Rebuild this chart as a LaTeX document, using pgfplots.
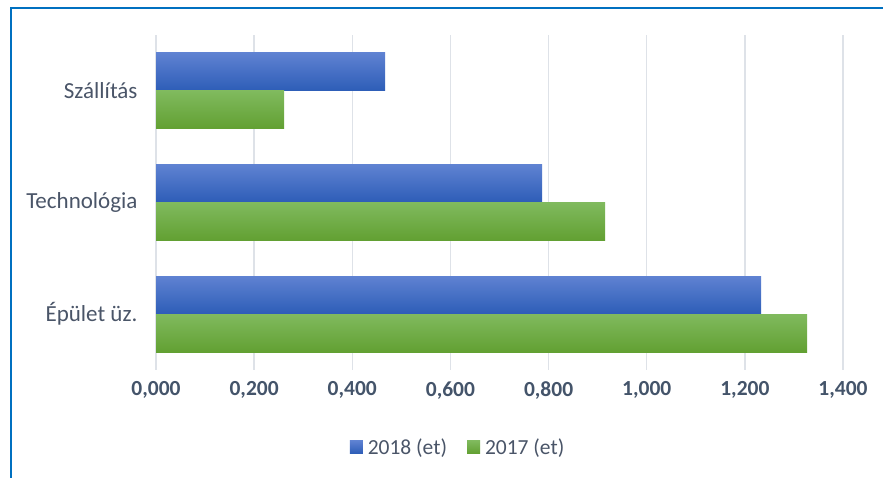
\documentclass[border=0pt]{standalone}
\usepackage{fontspec}
\setmainfont{Carlito}
\usepackage{pgfplots}
\pgfplotsset{compat=1.18}
\definecolor{txt}{HTML}{44546A}
\definecolor{cat}{HTML}{4A5568}
\definecolor{gridc}{HTML}{DEE2E8}
\definecolor{frame}{HTML}{0070C0}
\definecolor{btop}{HTML}{5F82D2}
\definecolor{bbot}{HTML}{2D5DB7}
\definecolor{gtop}{HTML}{80BA5E}
\definecolor{gbot}{HTML}{62A032}
\pgfplotsset{
  blue bar/.style={xbar, bar shift=0.17, draw=none, top color=btop, bottom color=bbot},
  green bar/.style={xbar, bar shift=-0.17, draw=none, top color=gtop, bottom color=gbot},
}
\begin{document}
\begin{tikzpicture}[x=1bp,y=1bp]
\useasboundingbox (0,0) rectangle (883,478);
\draw[frame,line width=2bp] (11,0) -- (11,470) -- (883,470);
\begin{axis}[
  at={(156bp,108bp)}, anchor=south west,
  scale only axis, width=687bp, height=335bp,
  xmin=0, xmax=1.4, ymin=-0.5, ymax=2.5,
  axis line style={draw=none},
  major tick length=0pt,
  xtick={0,0.2,0.4,0.6,0.8,1.0,1.2,1.4},
  xticklabels={{0,000},{0,200},{0,400},{0,600},{0,800},{1,000},{1,200},{1,400}},
  ytick={0,1,2},
  yticklabels={Épület üz.,Technológia,Szállítás},
  xmajorgrids, ymajorgrids=false,
  major grid style={gridc,line width=1.3bp},
  xticklabel style={font=\fontsize{21.5bp}{26bp}\selectfont\bfseries, text=txt, yshift=-8bp},
  yticklabel style={font=\fontsize{23bp}{27bp}\selectfont, text=cat, xshift=-15bp},
  bar width=0.34,
  legend columns=2,
  legend style={at={(0.4396,-0.23)}, anchor=center, draw=none, fill=none,
    font=\fontsize{21.5bp}{26bp}\selectfont, text=cat,
    /tikz/every odd column/.append style={column sep=3bp},
    /tikz/every even column/.append style={column sep=18bp}},
  legend image code/.code={\path[#1,draw=none] (0bp,-6.5bp) rectangle (13bp,6.5bp);},
]
\addplot[blue bar] coordinates {(1.233,0)};
\addlegendentry{2018 (et)}
\addplot[green bar] coordinates {(1.327,0)};
\addlegendentry{2017 (et)}
\addplot[blue bar, forget plot] coordinates {(0.787,1)};
\addplot[blue bar, forget plot] coordinates {(0.467,2)};
\addplot[green bar, forget plot] coordinates {(0.915,1)};
\addplot[green bar, forget plot] coordinates {(0.261,2)};
\end{axis}
\end{tikzpicture}
\end{document}
